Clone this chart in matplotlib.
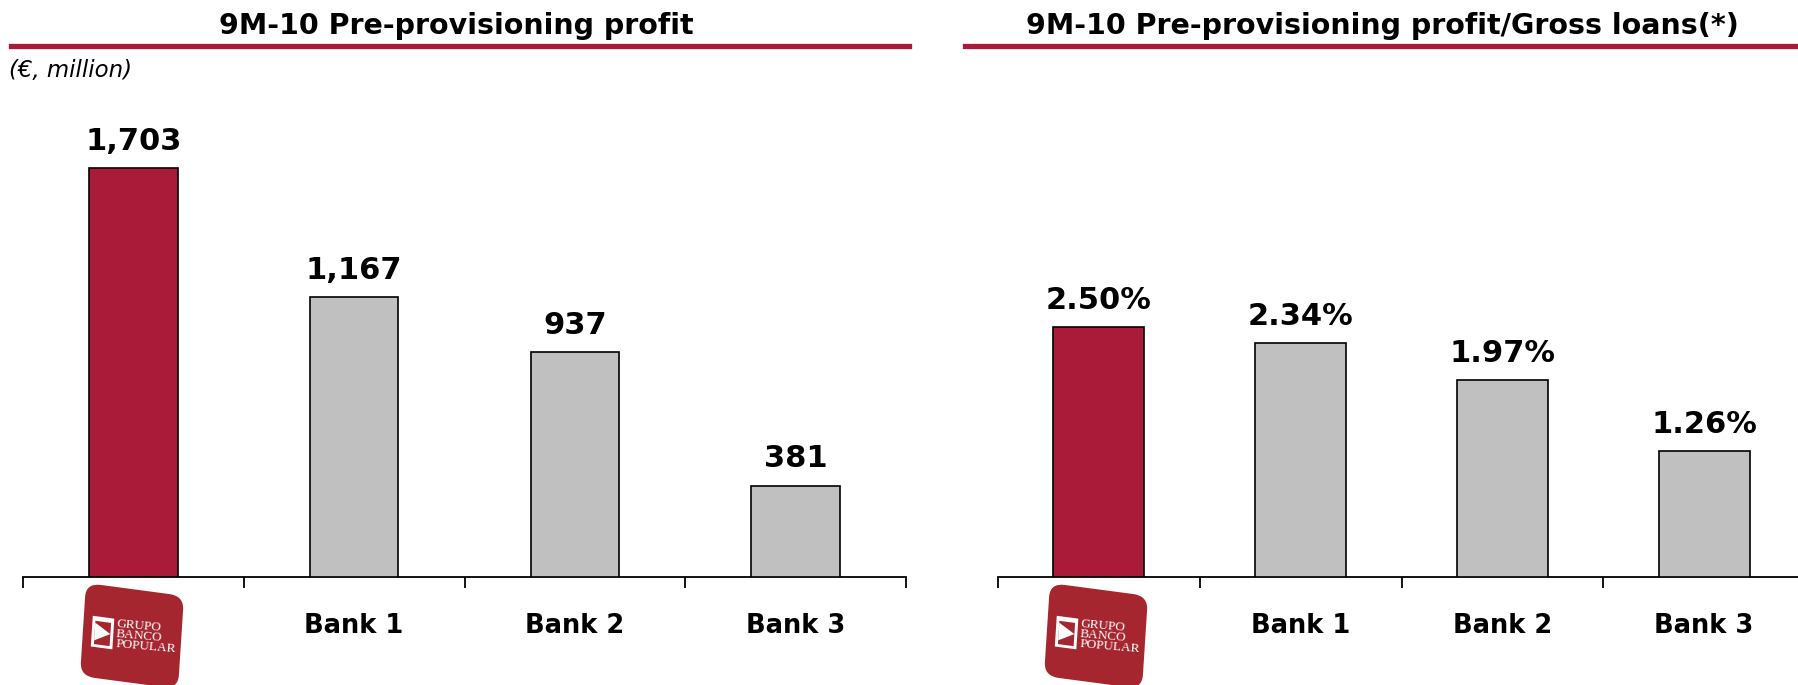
import numpy as np
import matplotlib
matplotlib.use("Agg")
import matplotlib.pyplot as plt
import matplotlib.transforms as mtransforms
from matplotlib.patches import FancyBboxPatch, Rectangle, Polygon
from matplotlib.lines import Line2D

# Data
banks = ["Grupo Banco Popular", "Bank 1", "Bank 2", "Bank 3"]
profit = [1703, 1167, 937, 381]
profit_labels = ["1,703", "1,167", "937", "381"]
ratio = [2.50, 2.34, 1.97, 1.26]
ratio_labels = ["2.50%", "2.34%", "1.97%", "1.26%"]

title_left = "9M-10 Pre-provisioning profit"
title_right = "9M-10 Pre-provisioning profit/Gross loans(*)"
unit_note = "(€, million)"

RED = "#AA1B3A"
GREY = "#C0C0C0"
LOGO_RED = "#A5262F"

W, H, DPI = 1798, 685, 100
fig = plt.figure(figsize=(W / DPI, H / DPI), dpi=DPI)
plt.rcParams["font.family"] = "DejaVu Sans"


def px(x, y):
    # pixel (from top-left) -> figure fraction
    return x / W, 1 - y / H


def draw_chart(rect, values, labels, ymax, width):
    ax = fig.add_axes(rect)
    x = np.arange(len(values))
    colors = [RED] + [GREY] * (len(values) - 1)
    ax.bar(x, values, width=width, color=colors, edgecolor="black", linewidth=1.2, zorder=3)
    for xi, v, lab in zip(x, values, labels):
        ax.annotate(lab, (xi, v), xytext=(0, 13), textcoords="offset points",
                    ha="center", va="baseline", fontsize=22, fontweight="bold")
    # category names under the axis (first one is the logo)
    for xi, name in zip(x[1:], banks[1:]):
        ax.annotate(name, (xi, 0), xycoords=("data", "axes fraction"),
                    xytext=(0, -35), textcoords="offset points",
                    ha="center", va="center", fontsize=18.5, fontweight="bold")
    ax.set_xlim(-0.5, len(values) - 0.5)
    ax.set_ylim(0, ymax)
    for s in ["top", "right", "left"]:
        ax.spines[s].set_visible(False)
    ax.spines["bottom"].set_linewidth(1.3)
    ax.set_yticks([])
    ax.set_xticks(np.arange(len(values) + 1) - 0.5)
    ax.set_xticklabels([])
    ax.tick_params(axis="x", direction="out", length=8, width=1.3)
    ax.patch.set_visible(False)
    return ax


def draw_logo(cx, cy):
    # cx, cy in pixels from top-left; logo is a slightly skewed rounded square
    cy = H - cy
    m = np.array([[0.98, 0.06, cx], [-0.13, 0.93, cy], [0, 0, 1]])
    t = mtransforms.Affine2D(m).scale(1 / DPI) + fig.dpi_scale_trans
    s = 100
    fig.add_artist(FancyBboxPatch((-s / 2, -s / 2), s, s, boxstyle="round,pad=0,rounding_size=15",
                                  facecolor=LOGO_RED, edgecolor="none", transform=t))
    # emblem
    ex, ey = -41, -17
    fig.add_artist(Rectangle((ex, ey), 22, 33, facecolor="white", edgecolor="none", transform=t))
    fig.add_artist(Rectangle((ex + 3, ey + 3), 16, 25, facecolor=LOGO_RED, edgecolor="none", transform=t))
    fig.add_artist(Polygon([[ex + 3, ey + 7], [ex + 3, ey + 26], [ex + 19, ey + 16]],
                           closed=True, facecolor="white", edgecolor="none", transform=t))
    for i, word in enumerate(["GRUPO", "BANCO", "POPULAR"]):
        fig.text(-16, 11 - i * 11, word, transform=t, fontsize=9.5, color="white",
                 family="Liberation Serif", ha="left", va="center", rotation=-5,
                 rotation_mode="anchor")


# Left chart
draw_chart([23 / W, 108 / H, 883 / W, 480.3 / H], profit, profit_labels, 2000, 0.4)
# Right chart
draw_chart([998 / W, 108 / H, 807 / W, 480.3 / H], ratio, ratio_labels, 4.8, 0.45)

# Titles and red rules
fig.text(*px(456, 26), title_left, ha="center", va="center", fontsize=20.5, fontweight="bold")
fig.text(*px(1382, 26), title_right, ha="center", va="center", fontsize=20.5, fontweight="bold")
fig.add_artist(Line2D([11 / W, 909 / W], [1 - 46 / H] * 2, color=RED, linewidth=3.8))
fig.add_artist(Line2D([965 / W, 1.0], [1 - 46 / H] * 2, color=RED, linewidth=3.8))
fig.text(*px(9, 71), unit_note, ha="left", va="center", fontsize=16.5, style="italic")

# Logos
draw_logo(132, 636)
draw_logo(1096, 636)

fig.savefig("out.png", dpi=DPI)
